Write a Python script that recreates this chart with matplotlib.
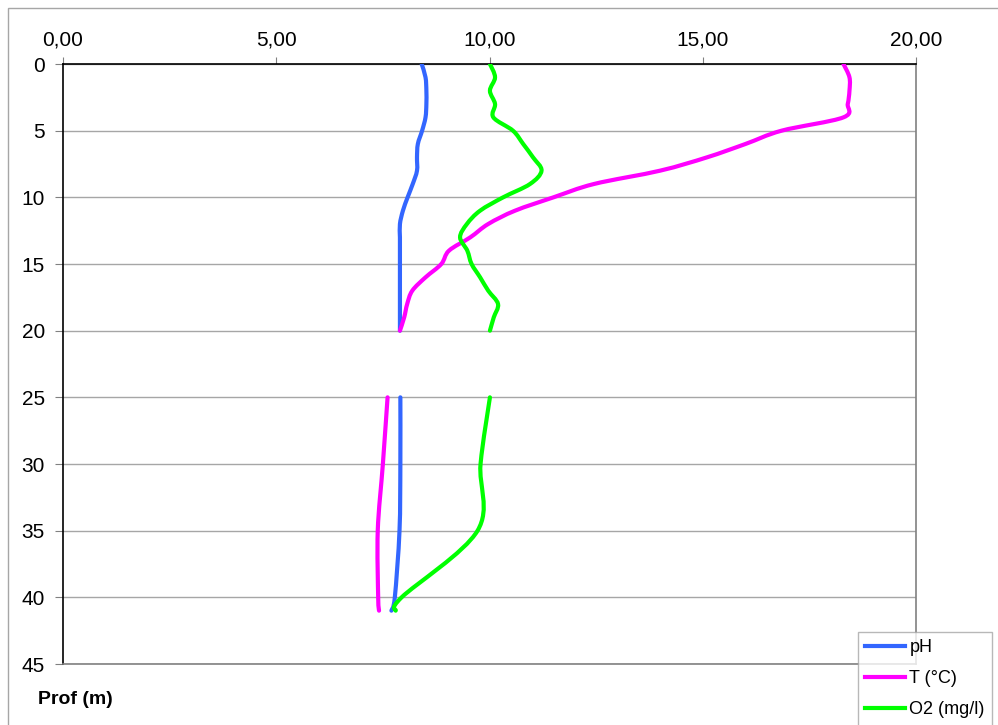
import numpy as np
import matplotlib.pyplot as plt
from matplotlib.path import Path
from matplotlib.patches import PathPatch, Rectangle
from matplotlib.lines import Line2D
from matplotlib.ticker import FuncFormatter

plt.rcParams['font.family'] = ['Liberation Sans', 'DejaVu Sans']

# depth (m); 21-24 m have no measurements
prof = [0, 1, 2, 3, 4, 5, 6, 7, 8, 9, 10, 11, 12, 13, 14, 15, 16, 17, 18, 19, 20,
        21, 22, 23, 24, 25, 30, 35, 40, 41]
nan = np.nan
ph = [8.41, 8.50, 8.52, 8.52, 8.50, 8.42, 8.32, 8.30, 8.30, 8.20, 8.08, 7.97, 7.90,
      7.90, 7.90, 7.90, 7.90, 7.90, 7.90, 7.90, 7.90,
      nan, nan, nan, nan, 7.91, 7.91, 7.89, 7.78, 7.70]
temp = [18.30, 18.44, 18.44, 18.40, 18.30, 16.85, 16.00, 15.10, 14.00, 12.45, 11.50,
        10.60, 9.97, 9.55, 9.05, 8.87, 8.50, 8.19, 8.07, 8.00, 7.90,
        nan, nan, nan, nan, 7.61, 7.50, 7.38, 7.39, 7.41]
o2 = [10.01, 10.13, 10.01, 10.13, 10.09, 10.55, 10.79, 11.02, 11.22, 10.95, 10.32,
      9.78, 9.47, 9.31, 9.48, 9.58, 9.78, 9.97, 10.20, 10.10, 10.01,
      nan, nan, nan, nan, 10.01, 9.79, 9.72, 7.94, 7.80]

series = [('pH', ph, '#3366ff'), ('T (°C)', temp, '#ff00ff'), ('O2 (mg/l)', o2, '#00ff00')]


def smooth_path(xs, ys):
    # cubic bezier through the points, like a smoothed spreadsheet line
    pts = np.column_stack([xs, ys])
    verts = [pts[0]]
    codes = [Path.MOVETO]
    n = len(pts)
    for i in range(n - 1):
        p0 = pts[i - 1] if i > 0 else pts[i]
        p1 = pts[i]
        p2 = pts[i + 1]
        p3 = pts[i + 2] if i + 2 < n else pts[i + 1]
        c1 = p1 + (p2 - p0) / 6.0
        c2 = p2 - (p3 - p1) / 6.0
        verts += [c1, c2, p2]
        codes += [Path.CURVE4] * 3
    return Path(verts, codes)


fig = plt.figure(figsize=(9.98, 7.25), dpi=100)
ax = fig.add_axes([63 / 998, 1 - 664 / 725, 853 / 998, 600 / 725])

# outer chart border (runs off the right and bottom edges)
fig.patches.append(Rectangle((8 / 998, -0.1), 1.1, (1 - 8 / 725) + 0.1,
                             transform=fig.transFigure, fill=False,
                             edgecolor='#a6a6a6', lw=1.0))

handles = []
for label, vals, col in series:
    v = np.array(vals, dtype=float)
    d = np.array(prof, dtype=float)
    ok = ~np.isnan(v)
    # split into runs without gaps
    idx = np.where(ok)[0]
    runs = np.split(idx, np.where(np.diff(idx) > 1)[0] + 1)
    for r in runs:
        ax.add_patch(PathPatch(smooth_path(v[r], d[r]), fill=False, edgecolor=col,
                               lw=3, capstyle='round', joinstyle='round', zorder=3))
    handles.append(Line2D([], [], color=col, lw=3, label=label))

ax.set_xlim(0, 20)
ax.set_ylim(45, 0)
ax.set_xticks([0, 5, 10, 15, 20])
ax.set_yticks(range(0, 50, 5))
ax.xaxis.set_major_formatter(FuncFormatter(lambda x, p: f'{x:.2f}'.replace('.', ',')))
ax.xaxis.tick_top()
ax.tick_params(axis='x', which='both', top=True, bottom=False, length=5,
               color='#808080', labelsize=15, pad=5.5)
ax.tick_params(axis='y', length=6, color='#808080', labelsize=15, pad=7)
ax.grid(axis='y', color='#a6a6a6', lw=1)
ax.set_axisbelow(True)
ax.spines['top'].set_color('black')
ax.spines['left'].set_color('black')
ax.spines['right'].set_color('#808080')
ax.spines['bottom'].set_color('#808080')
for s in ax.spines.values():
    s.set_linewidth(1.2)

fig.text(38 / 998, 1 - 699 / 725, 'Prof (m)', fontsize=14, fontweight='bold',
         va='center', ha='left')

leg = fig.legend(handles=handles, loc='upper left',
                 bbox_to_anchor=(858 / 998, 1 - 632 / 725), frameon=True,
                 fancybox=False, edgecolor='#a6a6a6', fontsize=13,
                 handlelength=2.2, handletextpad=0.25, labelspacing=0.78,
                 borderpad=0.4, borderaxespad=0)
leg.get_frame().set_linewidth(1.0)

plt.savefig('out.png', dpi=100)
